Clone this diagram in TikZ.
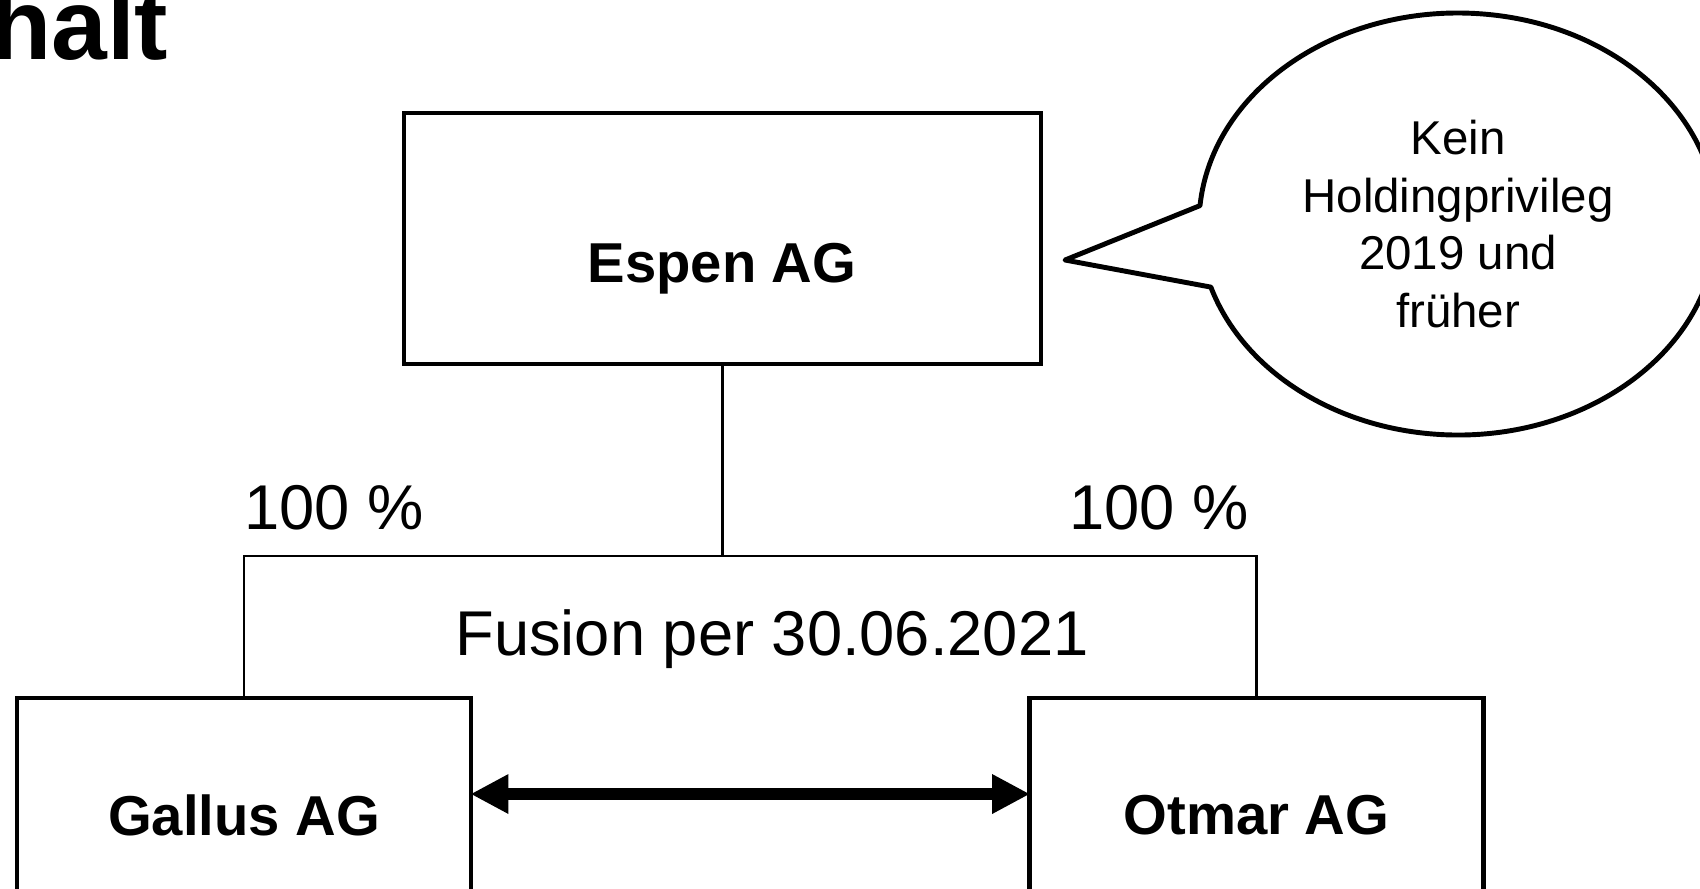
\documentclass[tikz,border=0pt]{standalone}
\usepackage{fontspec}
\setmainfont{Liberation Sans}
\usetikzlibrary{arrows.meta,positioning,calc}

\begin{document}
\begin{tikzpicture}[
    firm/.style={draw,line width=1.4pt,inner sep=0pt,
                 minimum width=4.54cm,minimum height=2.34cm,
                 font=\fontsize{16}{19}\selectfont\bfseries,align=center},
    parent/.style={firm,minimum width=6.37cm,minimum height=2.51cm},
    firmname/.style={font=\fontsize{16}{19}\selectfont\bfseries,
                     anchor=base,inner sep=0pt},
    share/.style={font=\fontsize{18}{22}\selectfont,anchor=base,inner sep=0pt},
    link/.style={line width=0.6pt},
    merge/.style={{Triangle[length=3.8mm,width=3.7mm]}-{Triangle[length=3.8mm,width=3.7mm]},
                  line width=3.5pt},
    bubble/.style={draw,line width=1.4pt,line join=round},
    note/.style={font=\fontsize{13.5}{16.4}\selectfont,align=center,inner sep=0pt},
]

% ---- Frame ---------------------------------------------------------------
\useasboundingbox (0,0) rectangle (17,-8.88);
\clip (0,0) rectangle (17,-8.88);

% ---- Title (runs off the left edge) --------------------------------------
\node[font=\fontsize{28.5}{32}\selectfont\bfseries,anchor=base east,inner sep=0pt]
    (title) at (1.69,-0.59) {Inhalt};

% ---- Companies -----------------------------------------------------------
\node[parent] (espen) at (7.225,-2.385) {};
\node[firmname] (espenname) at (7.22,-2.82) {Espen AG};

\node[firm] (gallus) at (2.44,-8.15) {Gallus AG};
\node[firm] (otmar) at (12.565,-8.15) {Otmar AG};

% ---- Holdings ------------------------------------------------------------
\coordinate (split) at (7.225,-5.56);
\draw[link] (espen.south) -- (split);
\draw[link] (gallus.north) |- (split) -| (otmar.north);

\node[share] (shareG) at (3.34,-5.29) {100 \%};
\node[share] (shareO) at (11.59,-5.29) {100 \%};

\node[share] (fusion) at (7.72,-6.55) {Fusion per 30.06.2021};

% ---- Merger --------------------------------------------------------------
\draw[merge] ([xshift=-0.03cm,yshift=0.21cm]gallus.east)
    -- ([xshift=0.03cm,yshift=0.21cm]otmar.west);

% ---- Speech bubble -------------------------------------------------------
\coordinate (cloud) at (14.58,-2.24);
\coordinate (hint) at (10.65,-2.60);
\draw[bubble] (hint) -- ([shift={(175:2.59 and 2.11)}]cloud)
    arc[start angle=175,end angle=-162.6,x radius=2.59cm,y radius=2.11cm]
    -- cycle;
\node[note] (remark) at (14.58,-2.24)
    {Kein\\ Holdingprivileg\\ 2019 und\\ früher};

\end{tikzpicture}
\end{document}
